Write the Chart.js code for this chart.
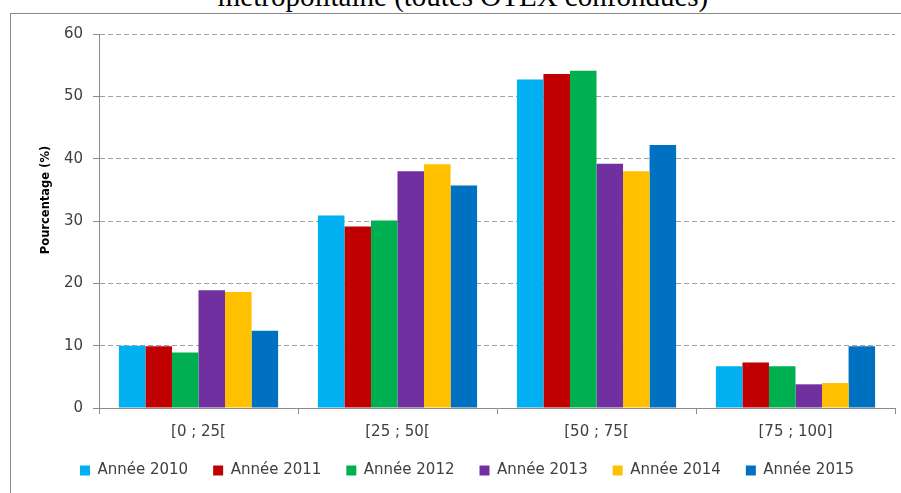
<!DOCTYPE html>
<html>
<head>
<meta charset="utf-8">
<script src="https://cdn.jsdelivr.net/npm/chart.js@4"></script>
<style>
    html, body { margin: 0; padding: 0; background: #fff; overflow: hidden; }
    #frame { position: absolute; left: 10px; top: 13px; width: 900px; height: 490px;
             border-left: 1px solid #8a8a8a; border-top: 1px solid #8a8a8a; }
    #title { position: absolute; left: 0; width: 926px; top: -18px; text-align: center;
             font: 29px 'Liberation Serif', serif; line-height: 29px; color: #000; white-space: nowrap; }
    #chart { position: absolute; left: 0; top: 0; }
</style>
</head>
<body>
<div id="title">métropolitaine (toutes OTEX confondues)</div>
<div id="frame"></div>
<canvas id="chart" width="901" height="493"></canvas>
<script>
const categories = ['[0 ; 25[', '[25 ; 50[', '[50 ; 75[', '[75 ; 100]'];
const years = ['Année 2010', 'Année 2011', 'Année 2012', 'Année 2013', 'Année 2014', 'Année 2015'];

const y2010 = [10.0, 30.9, 52.7, 6.7];
const y2011 = [9.9, 29.1, 53.6, 7.3];
const y2012 = [8.9, 30.1, 54.1, 6.7];
const y2013 = [18.9, 38.0, 39.2, 3.8];
const y2014 = [18.6, 39.1, 38.0, 4.0];
const y2015 = [12.4, 35.7, 42.2, 9.9];

const yTicks = [0, 10, 20, 30, 40, 50, 60];

const colors = {
    y2010: '#00b0f0',
    y2011: '#c00000',
    y2012: '#00b050',
    y2013: '#7030a0',
    y2014: '#ffc000',
    y2015: '#0070c0',
    axis: '#8c8c8c',
    grid: '#a0a0a0',
    text: '#404040'
};

const series = [y2010, y2011, y2012, y2013, y2014, y2015];
const seriesColors = [colors.y2010, colors.y2011, colors.y2012, colors.y2013, colors.y2014, colors.y2015];

// axis title drawn by hand so it can sit where Excel put it
const yTitlePlugin = {
    id: 'yTitle',
    afterDraw(chart) {
        const ctx = chart.ctx;
        ctx.save();
        ctx.translate(46.5, 200);
        ctx.rotate(-Math.PI / 2);
        ctx.font = "bold 11.5px 'DejaVu Sans'";
        ctx.fillStyle = '#000';
        ctx.textAlign = 'center';
        ctx.textBaseline = 'middle';
        ctx.fillText('Pourcentage (%)', 0, 0);
        ctx.restore();
    }
};

new Chart(document.getElementById('chart').getContext('2d'), {
    type: 'bar',
    data: {
        labels: categories,
        datasets: years.map((label, i) => ({
            label: label,
            data: series[i],
            backgroundColor: seriesColors[i],
            borderWidth: 0,
            categoryPercentage: 0.8,
            barPercentage: 1.0
        }))
    },
    options: {
        responsive: false,
        animation: false,
        devicePixelRatio: 1,
        layout: { padding: { left: 39, right: 6, top: 34, bottom: 5 } },
        plugins: {
            tooltip: { enabled: false },
            legend: {
                position: 'bottom',
                labels: {
                    boxWidth: 10,
                    boxHeight: 10,
                    padding: 25,
                    color: colors.text,
                    font: { family: "'DejaVu Sans'", size: 15 }
                }
            }
        },
        scales: {
            x: {
                afterFit: s => { s.height = 30; },
                grid: { drawOnChartArea: false, offset: true, tickLength: 6, color: colors.axis },
                border: { color: colors.axis },
                ticks: { color: colors.text, padding: 9, font: { family: "'DejaVu Sans'", size: 15 } }
            },
            y: {
                min: 0,
                max: 60,
                afterFit: s => { s.width = 60; },
                afterBuildTicks: s => { s.ticks = yTicks.map(v => ({ value: v })); },
                grid: {
                    color: colors.grid,
                    tickLength: 6,
                    tickBorderDash: [],
                    tickColor: colors.axis
                },
                border: { color: colors.axis, dash: [5, 3] },
                ticks: { color: colors.text, padding: 10, font: { family: "'DejaVu Sans'", size: 15 } }
            }
        }
    },
    plugins: [yTitlePlugin]
});
</script>
</body>
</html>
